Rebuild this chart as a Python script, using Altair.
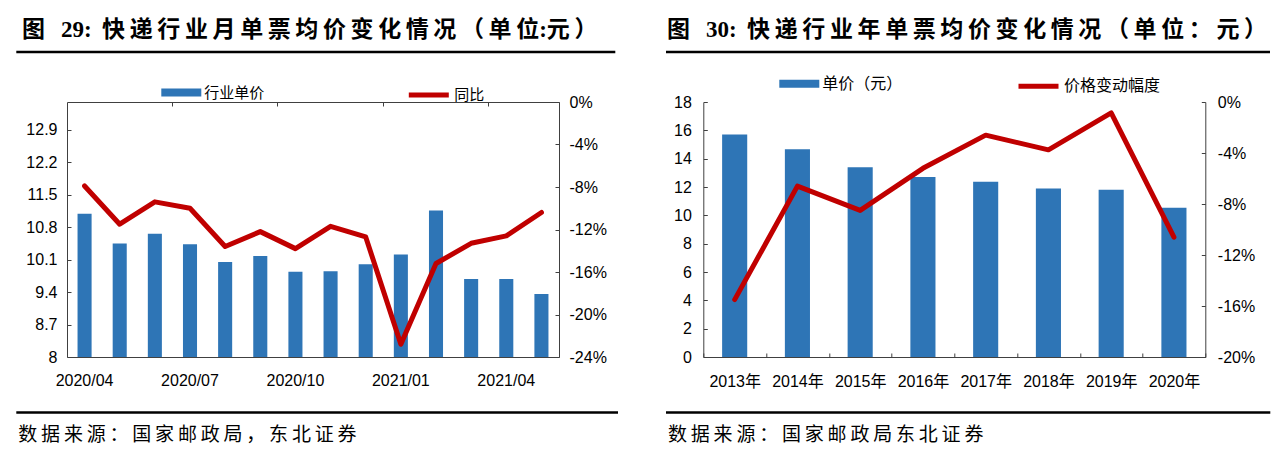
import altair as alt
import pandas as pd

# ---------------- data: left panel (monthly) ----------------
months = ["2020/04", "2020/05", "2020/06", "2020/07", "2020/08", "2020/09", "2020/10",
          "2020/11", "2020/12", "2021/01", "2021/02", "2021/03", "2021/04", "2021/05"]
month_price = [11.09, 10.45, 10.66, 10.43, 10.05, 10.18, 9.84,
               9.85, 10.00, 10.21, 11.16, 9.68, 9.68, 9.36]
month_yoy = [-7.9, -11.5, -9.4, -10.0, -13.6, -12.2, -13.8,
             -11.7, -12.7, -22.8, -15.2, -13.3, -12.6, -10.4]
month_label_values = ["2020/04", "2020/07", "2020/10", "2021/01", "2021/04"]
month_tick_values = ["2020/07", "2020/10", "2021/01", "2021/04"]
left_price_ticks = [8, 8.7, 9.4, 10.1, 10.8, 11.5, 12.2, 12.9]
left_pct_ticks = [-24, -20, -16, -12, -8, -4, 0]

# ---------------- data: right panel (yearly) ----------------
years = ["2013年", "2014年", "2015年", "2016年", "2017年", "2018年", "2019年", "2020年"]
year_price = [15.7, 14.67, 13.4, 12.7, 12.37, 11.9, 11.8, 10.54]
year_change = [-15.5, -6.6, -8.5, -5.2, -2.6, -3.75, -0.86, -10.6]
right_price_ticks = [0, 2, 4, 6, 8, 10, 12, 14, 16, 18]
right_pct_ticks = [-20, -16, -12, -8, -4, 0]

BLUE = "#2E75B6"
RED = "#C00000"
AXIS_COLOR = "#404040"
NUM_FONT = "Liberation Sans, Noto Sans CJK SC"
CJK_FONT = "Noto Sans CJK SC"
TITLE_FONT = "Liberation Serif, Noto Sans CJK SC"
BAR_PATH = "M-1,-0.2H1V0.2H-1Z"
LINE_PATH = "M-1,0H1"
THIN = "\u2009"


def spaced(s):
    return THIN.join(list(s))


def panel(cats, bar_vals, line_vals, bar_name, line_name, label_values, tick_values,
          price_dom, price_ticks, price_fmt, pct_dom, pct_ticks,
          title, source, width, height, x_label_pad, y_label_pad,
          bar_leg_x, line_leg_x, leg_y, leg_font,
          title_x, rule_x1, rule_x2, foot_rule_x2, foot_x):
    df = pd.DataFrame({"cat": cats, "val": bar_vals, "pct": line_vals,
                       "s1": [bar_name] * len(cats), "s2": [line_name] * len(cats)})
    xscale = alt.Scale(type="band", paddingInner=0, paddingOuter=0)
    extra_layers = []
    if tick_values is None:
        # one axis: labels centred, ticks at every category boundary
        ax_bar = alt.Axis(values=cats, labelAngle=0, tickBand="extent",
                          tickSize={"expr": "-4"}, tickColor=AXIS_COLOR,
                          domainColor=AXIS_COLOR, labelPadding=x_label_pad,
                          labelOverlap=False, labelFont=NUM_FONT, labelFontSize=16,
                          labelColor="black", labelBaseline="top")
        ax_line = ax_bar
    else:
        # domain line only; boundary ticks on a second axis; labels as a text layer
        ax_bar = alt.Axis(labels=False, ticks=False, domainColor=AXIS_COLOR)
        ax_line = alt.Axis(values=tick_values, bandPosition=0, labels=False,
                           domain=False, tickSize={"expr": "-4"}, tickColor=AXIS_COLOR)
        ldf = pd.DataFrame({"cat": label_values})
        extra_layers.append(
            alt.Chart(ldf).mark_text(baseline="top", font=NUM_FONT, fontSize=16,
                                     color="black").encode(
                x=alt.X("cat:N", sort=cats, scale=xscale, axis=ax_bar, title=None),
                y=alt.value(height + x_label_pad),
                text="cat:N"))
    bars = alt.Chart(df).mark_bar(width=alt.RelativeBandSize(0.4), clip=True).encode(
        x=alt.X("cat:N", sort=cats, title=None, scale=xscale, axis=ax_bar),
        y=alt.Y("val:Q", title=None,
                scale=alt.Scale(domain=price_dom, nice=False, zero=False),
                axis=alt.Axis(orient="left", values=price_ticks, format=price_fmt,
                              tickSize={"expr": "-4"}, tickColor=AXIS_COLOR,
                              domainColor=AXIS_COLOR, grid=False,
                              labelPadding=y_label_pad, labelFont=NUM_FONT,
                              labelFontSize=16, labelColor="black")),
        fill=alt.Fill("s1:N", title=None, scale=alt.Scale(range=[BLUE]),
                      legend=alt.Legend(orient="none", legendX=bar_leg_x, legendY=leg_y,
                                        symbolType=BAR_PATH, symbolSize=1600,
                                        symbolStrokeWidth=0, labelFont=CJK_FONT,
                                        labelFontSize=leg_font, labelColor="black",
                                        labelOffset=3, padding=0)),
    )
    line = alt.Chart(df).mark_line(strokeWidth=5, strokeJoin="round", strokeCap="round").encode(
        x=alt.X("cat:N", sort=cats, title=None, scale=xscale, axis=ax_line),
        y=alt.Y("pct:Q", title=None,
                scale=alt.Scale(domain=pct_dom, nice=False),
                axis=alt.Axis(orient="right", values=pct_ticks,
                              labelExpr="datum.value + '%'",
                              tickSize={"expr": "-4"}, tickColor=AXIS_COLOR,
                              domainColor=AXIS_COLOR, grid=False,
                              labelPadding=y_label_pad, labelFont=NUM_FONT,
                              labelFontSize=16, labelColor="black")),
        stroke=alt.Stroke("s2:N", title=None, scale=alt.Scale(range=[RED]),
                          legend=alt.Legend(orient="none", legendX=line_leg_x, legendY=leg_y,
                                            symbolType=LINE_PATH, symbolSize=1600,
                                            symbolStrokeWidth=5, labelFont=CJK_FONT,
                                            labelFontSize=leg_font, labelColor="black",
                                            labelOffset=3, padding=0)),
    )
    tdf = pd.DataFrame({"t": [title]})
    title_mark = alt.Chart(tdf).mark_text(
        align="left", baseline="alphabetic", font=TITLE_FONT, fontSize=23,
        fontWeight="bold", color="black").encode(
        text="t:N", x=alt.value(title_x), y=alt.value(-65))
    title_rule = alt.Chart(tdf).mark_rule(color="black", strokeWidth=2.5).encode(
        x=alt.value(rule_x1), x2=alt.value(rule_x2), y=alt.value(-50))
    foot_rule = alt.Chart(tdf).mark_rule(color="black", strokeWidth=2.5).encode(
        x=alt.value(rule_x1), x2=alt.value(foot_rule_x2), y=alt.value(310.5))
    sdf = pd.DataFrame({"s": [source]})
    foot_text = alt.Chart(sdf).mark_text(
        align="left", baseline="alphabetic", font=CJK_FONT, fontSize=19,
        color="black").encode(text="s:N", x=alt.value(foot_x), y=alt.value(338.5))
    layered = alt.layer(bars, line, *extra_layers, title_mark, title_rule, foot_rule,
                        foot_text).resolve_scale(y="independent")
    if tick_values is not None:
        layered = layered.resolve_axis(x="independent")
    return layered.properties(width=width, height=height)


GAP1 = "\u2002\u2009"
GAP2 = "\u00a0\u2009"
left_title = ("图" + GAP1 + "29:" + GAP2 + spaced("快递行业月单票均价变化情况（单位")
              + ":" + spaced("元）"))
right_title = "图" + GAP1 + "30:" + GAP2 + spaced("快递行业年单票均价变化情况（单位：元）")

left = panel(months, month_price, month_yoy, "行业单价", "同比",
             month_label_values, month_tick_values,
             [8, 13.5], left_price_ticks, ".1~f", [-24, 0], left_pct_ticks,
             left_title, spaced("数据来源：国家邮政局，东北证券"),
             492, 255, 16, 14, 94.3, 339.3, -29.5, 15,
             -45, -50.7, 548.3, 551, -48.7)
right = panel(years, year_price, year_change, "单价（元）", "价格变动幅度",
              years, None,
              [0, 18], right_price_ticks, "d", [-20, 0], right_pct_ticks,
              right_title, spaced("数据来源：国家邮政局东北证券"),
              502, 255, 20, 16, 76, 312.7, -38.2, 16,
              -36.3, -37.3, 566.7, 567, -35.3)

chart = alt.hconcat(left, right, spacing=144.3, bounds="flush").resolve_scale(
    fill="independent", stroke="independent"
).properties(
    padding={"left": 7, "top": 11, "right": 0, "bottom": 0},
    background="white",
).configure_view(stroke=None)

chart.save("out.html", embed_options={"renderer": "svg", "actions": False})
